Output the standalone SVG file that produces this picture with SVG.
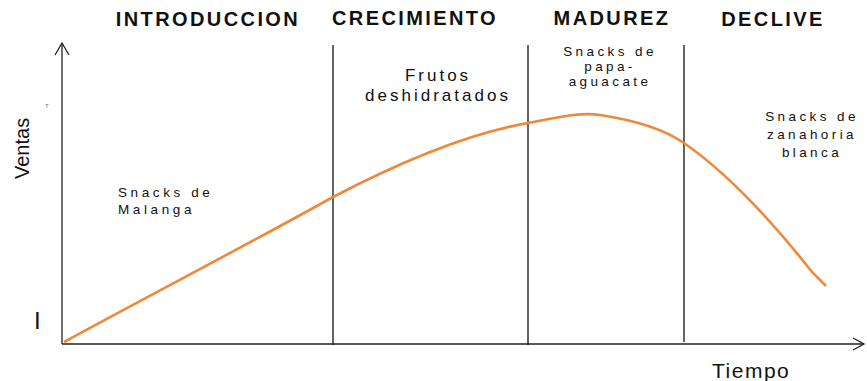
<svg xmlns="http://www.w3.org/2000/svg" width="867" height="381" viewBox="0 0 867 381">
<style>
.ax{stroke:#222;stroke-width:1.3;fill:none}
.div{stroke:#111;stroke-width:1.3}
.hd{font-family:"Liberation Sans",Arial,sans-serif;font-weight:bold;font-size:20px;fill:#111;text-anchor:middle;letter-spacing:2.4px}
.lb{font-family:"Liberation Sans",Arial,sans-serif;font-size:13.5px;fill:#111;letter-spacing:3.6px}
.lbc{font-family:"Liberation Sans",Arial,sans-serif;font-size:13.5px;fill:#111;letter-spacing:3.4px;text-anchor:middle}
.lbb{font-family:"Liberation Sans",Arial,sans-serif;font-size:17px;fill:#111;letter-spacing:3px;text-anchor:middle}
.axl{font-family:"Liberation Sans",Arial,sans-serif;font-size:20px;fill:#111}
</style>
<rect width="867" height="381" fill="#fff"/>
<g id="axes">
<path class="ax" d="M62 344 V43"/>
<path class="ax" d="M55 55 L62 43 L69 55"/>
<path class="ax" d="M62 344 H864"/>
<path class="ax" d="M853 338 L864 344 L853 350"/>
</g>
<g id="dividers">
<line class="div" x1="333" y1="45" x2="333" y2="345"/>
<line class="div" x1="528" y1="45" x2="528" y2="345"/>
<line class="div" x1="684" y1="45" x2="684" y2="342"/>
</g>
<g id="headers">
<text class="hd" x="208" y="26">INTRODUCCION</text>
<text class="hd" x="415" y="25">CRECIMIENTO</text>
<text class="hd" x="612" y="25">MADUREZ</text>
<text class="hd" x="773" y="26">DECLIVE</text>
</g>
<g id="curve">
<path d="M64 342 C150 295 260 238 333 197 C400 162 470 133 528 123 C560 117 580 112 600 115 C640 121 665 130 684 143 C730 175 775 225 812 272 L826 286" fill="none" stroke="#f0883a" stroke-width="2.6"/>
</g>
<g id="labels">
<text class="lb" x="118" y="197">Snacks de</text>
<text class="lb" x="118" y="214">Malanga</text>
<text class="lbb" x="438" y="81">Frutos</text>
<text class="lbb" x="438" y="101">deshidratados</text>
<text class="lbc" x="610" y="56">Snacks de</text>
<text class="lbc" x="610" y="71">papa-</text>
<text class="lbc" x="610" y="86">aguacate</text>
<text class="lbc" x="812" y="121">Snacks de</text>
<text class="lbc" x="812" y="139">zanahoria</text>
<text class="lbc" x="812" y="157">blanca</text>
</g>
<g id="axis-labels">
<text class="axl" transform="translate(29 179) rotate(-90)">Ventas</text>
<text class="axl" x="712" y="378" style="font-size:21px;letter-spacing:1.5px">Tiempo</text>
<text class="axl" x="34" y="329" style="font-size:24px">I</text>
<text x="45" y="108" style="font-family:'Liberation Sans',sans-serif;font-size:6px;fill:#3a7bd5">T</text>
</g>
</svg>
